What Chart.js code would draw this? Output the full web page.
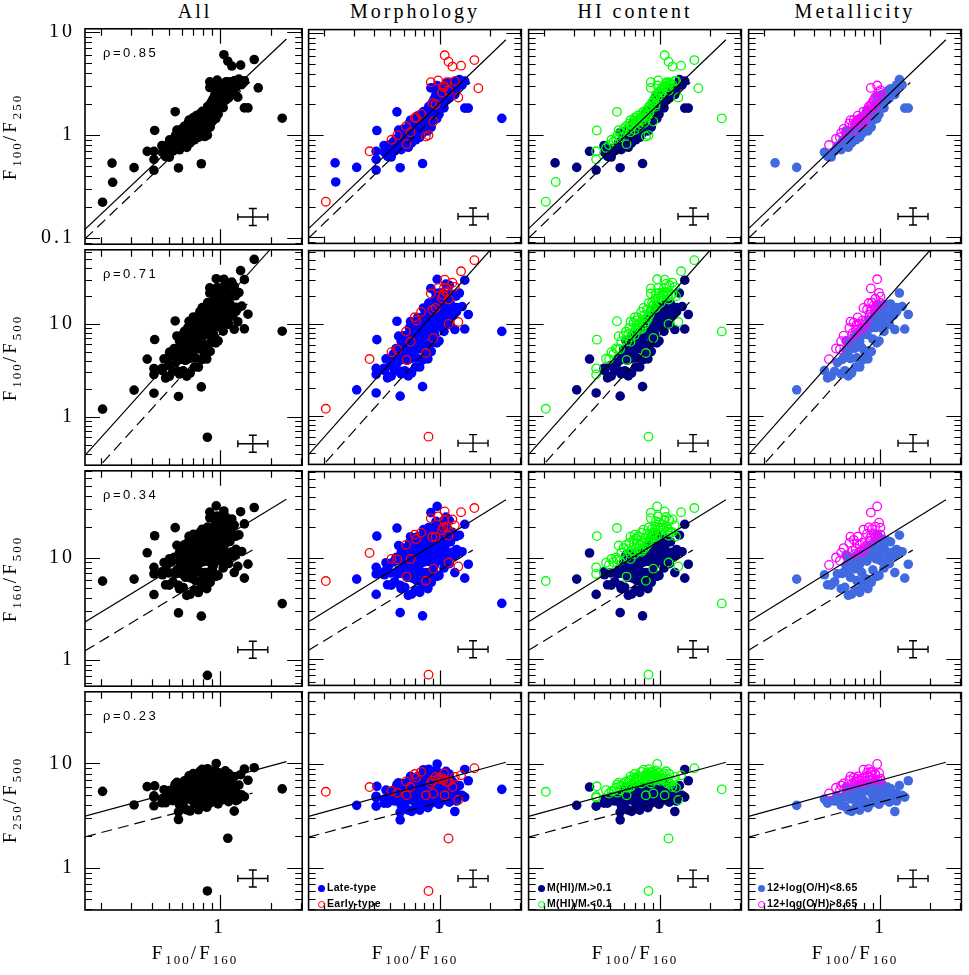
<!DOCTYPE html>
<html>
<head>
<meta charset="utf-8">
<script src="https://cdn.jsdelivr.net/npm/chart.js@4.4.1/dist/chart.umd.min.js"></script>
<style>
body { margin: 0; background: #fff; }
#page { position: relative; width: 969px; height: 975px; overflow: hidden; background: #fff; }
#page canvas { position: absolute; }
.t { position: absolute; white-space: nowrap; color: #000; }
.serif { font-family: 'Liberation Serif', serif; font-size: 19px; letter-spacing: 3px; }
.serif sub { font-size: 13px; vertical-align: -5px; line-height: 0; letter-spacing: 2px; }
.coltitle { width: 220px; text-align: center; line-height: 26px; font-size: 20px; }
.ytitle { width: 221px; height: 26px; line-height: 26px; text-align: center; transform: rotate(-90deg); }
.xtitle { width: 220px; text-align: center; line-height: 26px; }
.rho { font-family: 'Liberation Sans', sans-serif; font-size: 13px; line-height: 16px; letter-spacing: 2.5px; }
.legend { font-family: 'Liberation Sans', sans-serif; font-weight: bold; font-size: 10.5px; line-height: 12px; letter-spacing: 0.3px; }
.legend sub { font-size: 7px; vertical-align: -2px; line-height: 0; }
.mk { display: inline-block; width: 7px; height: 7px; border-radius: 50%; margin-right: 2px; vertical-align: -1px; box-sizing: border-box; }
</style>
</head>
<body>
<div id="page"></div>
<script>
// F100/F160 for each galaxy (x axis of every panel)
const ratio100_160 = [
  0.46, 0.48, 0.49, 0.50, 0.52, 0.53, 0.54, 0.55, 0.55, 0.47,
  0.56, 0.57, 0.58, 0.58, 0.59, 0.60, 0.60, 0.61, 0.62, 0.62,
  0.63, 0.63, 0.64, 0.64, 0.56, 0.65, 0.65, 0.66, 0.66, 0.67,
  0.67, 0.68, 0.68, 0.69, 0.69, 0.70, 0.70, 0.70, 0.71, 0.71,
  0.72, 0.72, 0.72, 0.73, 0.73, 0.74, 0.74, 0.75, 0.75, 0.75,
  0.76, 0.765, 0.77, 0.77, 0.78, 0.78, 0.79, 0.79, 0.80, 0.80,
  0.80, 0.715, 0.81, 0.817, 0.82, 0.82, 0.83, 0.83, 0.84, 0.84,
  0.85, 0.85, 0.86, 0.86, 0.87, 0.875, 0.88, 0.88, 0.89, 0.89,
  0.90, 0.90, 0.893, 0.906, 0.875, 0.91, 0.92, 0.92, 0.93, 0.935,
  0.94, 0.94, 0.95, 0.95, 0.955, 0.96, 0.968, 0.97, 0.98, 0.98,
  0.99, 1.00, 1.00, 1.02, 1.02, 1.03, 1.04, 1.05, 1.05, 1.06,
  1.07, 1.08, 1.09, 1.09, 1.10, 1.11, 1.118, 1.12, 1.13, 1.13,
  1.15, 1.18, 1.18, 1.20, 1.22, 1.22, 1.24, 1.25, 1.28, 1.30,
  1.33, 1.35, 1.40, 1.40, 1.47, 1.60, 1.69, 2.34, 0.204, 0.232,
  0.234, 0.313, 0.374, 0.41, 0.414, 0.41, 0.41, 0.572, 0.78, 0.505,
  0.547, 0.847, 0.457, 0.507, 0.625, 0.66, 0.572,
  0.62, 0.64, 0.66, 0.68, 0.70, 0.71, 0.73, 0.74, 0.76, 0.77,
  0.79, 0.80, 0.82, 0.83, 0.85, 0.86, 0.87, 0.88, 0.90, 0.91,
  0.92, 0.93, 0.95, 0.96, 0.97, 0.99, 1.00, 1.01, 1.03, 1.04,
  1.06, 1.08, 1.10, 1.12, 1.15, 1.17, 1.25, 0.60, 0.66, 0.84
];

// F100/F250
const ratio100_250 = [
  0.68, 0.62, 0.80, 0.74, 0.86, 0.70, 0.92, 0.78, 1.00, 0.75,
  0.85, 0.95, 0.72, 1.05, 0.88, 0.98, 1.15, 0.80, 1.02, 1.22,
  0.90, 1.10, 0.96, 0.76, 1.12, 1.08, 1.30, 0.92, 1.18, 1.02,
  0.84, 1.25, 1.12, 1.40, 0.98, 1.20, 1.05, 1.48, 1.32, 0.90,
  1.15, 1.38, 1.00, 1.26, 1.55, 1.10, 1.35, 1.20, 0.95, 1.45,
  1.30, 1.61, 1.18, 1.40, 1.05, 1.50, 1.28, 1.70, 1.15, 1.42,
  1.60, 1.48, 1.35, 0.97, 1.55, 1.22, 1.75, 1.40, 1.10, 1.62,
  1.48, 1.90, 1.30, 1.68, 1.55, 3.30, 1.85, 1.20, 1.62, 2.05,
  1.40, 1.75, 2.07, 1.36, 2.90, 2.20, 1.55, 1.95, 2.35, 2.00,
  1.70, 2.50, 1.45, 2.10, 3.06, 2.30, 3.43, 1.85, 2.65, 1.60,
  2.20, 2.45, 1.95, 2.61, 2.10, 2.80, 2.35, 3.03, 1.85, 6.05,
  2.55, 3.20, 3.30, 2.20, 2.70, 2.95, 5.23, 2.72, 3.30, 2.30,
  2.85, 4.69, 3.10, 2.60, 3.38, 2.50, 3.40, 2.90, 2.34, 3.50,
  4.79, 3.10, 3.38, 1.84, 1.84, 5.43, 2.88, 1.46, 0.223, 0.535,
  0.348, 0.483, 0.695, 0.695, 1.11, 0.455, 0.58, 0.48, 0.527, 0.61,
  1.69, 1.00, 0.79, 0.90, 0.816, 1.07, 1.06,
  1.10, 1.18, 1.00, 1.30, 1.12, 1.25, 1.40, 1.20, 1.45, 1.28,
  1.55, 1.32, 1.68, 1.48, 1.75, 1.58, 1.95, 1.65, 2.10, 1.80,
  2.25, 1.90, 2.40, 2.00, 2.60, 2.30, 2.75, 2.20, 2.50, 2.95,
  2.40, 2.65, 3.05, 2.50, 3.20, 2.70, 3.10, 0.90, 1.40, 1.25
];

// F250/F500 (null = no 500 micron flux)
const ratio250_500 = [
  4.6, 4.2, 5.2, 4.8, 5.5, 4.4, 5.9, 4.9, 5.3, 5.6,
  5.0, 5.6, 4.0, 6.2, 4.7, 5.4, 6.5, 3.9, 5.1, 6.8,
  4.5, 5.9, 5.2, 3.6, 6.6, 5.6, 7.0, 4.6, 6.1, 5.0,
  3.5, 6.4, 5.7, 7.4, 4.4, 6.0, 5.2, 8.0, 6.6, 3.8,
  5.5, 7.2, 4.3, 6.2, 7.6, 4.9, 6.8, 5.4, 3.6, 7.0,
  5.9, 8.4, 4.7, 6.5, 3.9, 7.3, 5.6, 8.8, 4.4, 6.3,
  7.8, 7.4, 5.8, 5.0, 6.9, 4.8, 8.2, 5.5, 3.8, 7.1,
  6.2, 8.9, 4.6, 7.5, 6.0, 6.5, 7.8, 4.2, 5.8, 8.3,
  4.9, 6.6, 6.9, 5.2, 8.4, 7.2, 5.0, 6.8, 8.0, 7.5,
  5.4, 8.6, 4.3, 6.4, 10.0, 7.0, 7.2, 5.2, 8.2, 4.1,
  6.0, 6.9, 4.8, 7.3, 5.5, 7.8, 5.9, 8.1, 4.5, 5.0,
  6.4, 8.5, 6.7, 4.6, 6.0, 7.1, 1.92, 6.8, 8.0, 4.3,
  5.8, 6.0, 6.8, 4.8, 7.5, 3.49, 5.9, 5.2, 4.5, 6.2,
  7.8, 5.0, 8.85, 4.8, 6.9, 9.1, null, 5.7, 5.4, null,
  null, 4.0, 6.0, 4.75, 6.1, 3.93, 4.9, 3.44, 3.97, 4.46,
  6.35, 0.60, 4.2, 5.5, 5.0, 6.0, 2.9,
  6.0, 6.6, 5.4, 5.8, 6.8, 5.0, 5.6, 7.2, 5.2, 6.9,
  6.0, 7.5, 5.6, 8.0, 6.4, 5.0, 7.0, 5.5, 7.6, 5.8,
  6.2, 7.9, 6.7, 5.6, 7.4, 5.3, 7.2, 4.9, 6.3, 7.0,
  5.3, 5.6, 6.5, 4.6, 6.4, 4.9, 4.4, 4.8, 7.6, 4.1
];

// L = late-type, E = early-type
const morphology = (
  'LLLLLLLLEL' + 'LLLLLLLLLE' + 'LLLLLLLLLL' + 'LLLLLLLELL' + 'LLLLLLLLLL' +
  'LELLLLLLLL' + 'LELELLLLLL' + 'LLLLLELLLL' + 'LLEELLLLLE' + 'LLLLLLELLL' +
  'LLLELLLELE' + 'LLELLLEELL' + 'LELLELLLEL' + 'ELLLLEELEL' + 'LLELLLLLLL' +
  'LELEEEL' +
  'LLLLLLLLLL' + 'LLLLLLLLLL' + 'LLLLLLLLLE' + 'LLLLLLLLLL').split('');

// R = M(HI)/M* > 0.1, P = M(HI)/M* < 0.1
const hiContent = (
  'RRPRPRPRPP' + 'RPRPRRPRRP' + 'RPRRPRPRPR' + 'RPRPRRRPPR' + 'RPRRPRPRRP' +
  'RPRPRPRPRR' + 'PPRPPRPRRP' + 'RPRPRPPRRP' + 'RRPPPPRRPP' + 'RPRRPPPRPR' +
  'RPRPRPRPRP' + 'RPPRRPPPPR' + 'RPPRPRPRPR' + 'PRRRRPPPPR' + 'PRRPPRPRRR' +
  'PPRPPPR' +
  'RPRRPRRPRP' + 'RPRPRRPRPR' + 'RPRRPRPRRP' + 'RRPRPRRRPR').split('');

// L = 12+log(O/H) < 8.65, H = > 8.65, - = no measurement
const metallicity = (
  'LLH--LHL--' + '-HLHL-HLL-' + '-HLL-LHL--' + 'LHLH-LL-HL' + '-HLLH--LLH' +
  '--LHLH-HLL' + '--L-H-HLL-' + 'LH-HL-HL-H' + 'LL--HH-LH-' + 'L-L-HH-LHL' +
  '-HL-L-L-L-' + '---LL----L' + 'L--L-L-L-L' + '-L-LL----L' + '-L-------L' +
  '-------' +
  'L-L-HLL-LH' + '-HL-L-HL-L' + '-HLL-LH-L-' + 'L--L-LLLHL').split('');

const columnTitles = ['All', 'Morphology', 'HI content', 'Metallicity'];
const rowTitles = [['100', '250'], ['100', '500'], ['160', '500'], ['250', '500']];
const rhoValues = ['0.85', '0.71', '0.34', '0.23'];

const xRange = [0.1607, 3.07];
const yRanges = [[0.0871, 10.8], [0.314, 62.7], [0.555, 70.5], [0.394, 48.6]];

// model lines, [start, end] in data units
const solidLines = [
  [[0.1607, 0.1216], [2.477, 8.59]],
  [[0.1607, 0.383], [2.0, 64.0]],
  [[0.1607, 2.35], [2.477, 37.2]],
  [[0.1607, 3.13], [2.477, 10.4]]
];
const dashedLines = [
  [[0.1607, 0.098], [1.51, 3.28]],
  [[0.204, 0.318], [1.53, 18.1]],
  [[0.1607, 1.23], [1.563, 11.9]],
  [[0.1607, 1.98], [1.563, 5.2]]
];

// typical error bar, drawn at this position
const errorBarX = 1.57;
const errorBarY = [0.16, 0.51, 1.26, 0.79];

const legendItems = [
  null,
  [['#0000ff', false, 'Late-type'], ['#ff0000', true, 'Early-type']],
  [['#000080', false, 'M(HI)/M<sub>*</sub>&gt;0.1'], ['#00ff00', true, 'M(HI)/M<sub>*</sub>&lt;0.1']],
  [['#4169e1', false, '12+log(O/H)&lt;8.65'], ['#ff00ff', true, '12+log(O/H)&gt;8.65']]
];

const fillColours = ['#000000', '#0000ff', '#000080', '#4169e1'];
const openColours = [null, '#ff0000', '#00ff00', '#ff00ff'];

const colLeft = [85, 305, 525, 745];
const rowTop = [26, 247, 468, 689];
const PW = 220, PH = 221;

const page = document.getElementById('page');

function rowValue(row, i) {
  const a = ratio100_250[i], b = ratio250_500[i];
  if (row === 0) return a;
  if (b === null) return null;
  const f100_500 = a * b;
  if (row === 1) return f100_500;
  if (row === 2) return f100_500 / ratio100_160[i];
  return b;
}

function classOf(col, i) {
  if (col === 0) return 'fill';
  if (col === 1) return morphology[i] === 'L' ? 'fill' : 'open';
  if (col === 2) return hiContent[i] === 'R' ? 'fill' : 'open';
  if (metallicity[i] === '-') return null;
  return metallicity[i] === 'L' ? 'fill' : 'open';
}

function points(row, col, cls) {
  const pts = [];
  for (let i = 0; i < ratio100_160.length; i++) {
    if (classOf(col, i) !== cls) continue;
    const y = rowValue(row, i);
    if (y === null) continue;
    pts.push({ x: ratio100_160[i], y: y });
  }
  return pts;
}

function logTicks(min, max) {
  const out = [];
  for (let e = Math.floor(Math.log10(min)); e <= Math.ceil(Math.log10(max)); e++) {
    for (let m = 1; m < 10; m++) {
      const v = m * Math.pow(10, e);
      if (v > min * 1.001 && v < max / 1.001) out.push({ v: v, major: m === 1 });
    }
  }
  return out;
}

function decadeLabel(v) {
  const l = Math.log10(v);
  if (Math.abs(l - Math.round(l)) > 1e-6) return '';
  return l < 0 ? v.toFixed(-Math.round(l)) : String(Math.round(v));
}

function noPadding(s) {
  s.paddingTop = 0; s.paddingBottom = 0; s.paddingLeft = 0; s.paddingRight = 0;
}

const framePlugin = {
  id: 'frame',
  beforeDraw(chart) {
    chart.ctx.letterSpacing = '3px';
  },
  afterDatasetsDraw(chart, args, opts) {
    const { ctx, chartArea: a } = chart;
    const xs = chart.scales.x, ys = chart.scales.y;
    ctx.save();
    ctx.letterSpacing = '0px';
    ctx.strokeStyle = '#000';
    ctx.lineWidth = 1.2;
    ctx.beginPath();
    for (const t of logTicks(xs.min, xs.max)) {
      const px = Math.round(xs.getPixelForValue(t.v)) + 0.5;
      const len = t.major ? 15 : 7;
      ctx.moveTo(px, a.bottom); ctx.lineTo(px, a.bottom - len);
      ctx.moveTo(px, a.top); ctx.lineTo(px, a.top + len);
    }
    for (const t of logTicks(ys.min, ys.max)) {
      const py = Math.round(ys.getPixelForValue(t.v)) + 0.5;
      const len = t.major ? 15 : 7;
      ctx.moveTo(a.left, py); ctx.lineTo(a.left + len, py);
      ctx.moveTo(a.right, py); ctx.lineTo(a.right - len, py);
    }
    ctx.stroke();

    // error bar cross
    const cx = xs.getPixelForValue(errorBarX);
    const cy = ys.getPixelForValue(errorBarY[opts.row]);
    ctx.lineWidth = 1.4;
    ctx.beginPath();
    ctx.moveTo(cx - 15, cy); ctx.lineTo(cx + 15, cy);
    ctx.moveTo(cx - 15, cy - 3.5); ctx.lineTo(cx - 15, cy + 3.5);
    ctx.moveTo(cx + 15, cy - 3.5); ctx.lineTo(cx + 15, cy + 3.5);
    ctx.moveTo(cx, cy - 8.5); ctx.lineTo(cx, cy + 8.5);
    ctx.moveTo(cx - 4, cy - 8.5); ctx.lineTo(cx + 4, cy - 8.5);
    ctx.moveTo(cx - 4, cy + 8.5); ctx.lineTo(cx + 4, cy + 8.5);
    ctx.stroke();

    ctx.lineWidth = 1.6;
    ctx.strokeRect(a.left, a.top, a.right - a.left, a.bottom - a.top);
    ctx.restore();
  }
};

function lineSet(seg, dash) {
  return {
    data: seg.map(p => ({ x: p[0], y: p[1] })),
    showLine: true,
    borderColor: '#000',
    borderWidth: 1.2,
    borderDash: dash,
    pointRadius: 0,
    fill: false
  };
}

function makePanel(row, col) {
  const isLeft = col === 0, isBottom = row === 3;
  const axisW = colLeft[0], axisH = 40;
  const cv = document.createElement('canvas');
  cv.width = isLeft ? axisW + PW + 2 : PW + 4;
  cv.height = PH + 2 + (isBottom ? axisH : 2);
  cv.style.left = (isLeft ? 0 : colLeft[col] - 2) + 'px';
  cv.style.top = (rowTop[row] - 2) + 'px';
  page.appendChild(cv);

  const datasets = [lineSet(solidLines[row], []), lineSet(dashedLines[row], [11, 6])];
  if (openColours[col]) {
    datasets.push({
      data: points(row, col, 'open'),
      pointRadius: 4.3,
      pointBorderWidth: 1.3,
      pointBackgroundColor: 'rgba(0,0,0,0)',
      pointBorderColor: openColours[col]
    });
  }
  datasets.push({
    data: points(row, col, 'fill'),
    pointRadius: 4.8,
    pointBorderWidth: 0,
    pointBackgroundColor: fillColours[col],
    pointBorderColor: fillColours[col]
  });

  new Chart(cv, {
    type: 'scatter',
    data: { datasets: datasets },
    options: {
      responsive: false,
      animation: false,
      devicePixelRatio: 1,
      layout: { padding: { left: isLeft ? 0 : 2, right: 2, top: 2, bottom: isBottom ? 0 : 2 } },
      plugins: { legend: { display: false }, tooltip: { enabled: false }, frame: { row: row } },
      scales: {
        x: {
          type: 'logarithmic', position: 'bottom', min: xRange[0], max: xRange[1],
          display: isBottom,
          grid: { display: false, drawTicks: false }, border: { display: false },
          ticks: { autoSkip: false, maxRotation: 0, padding: 6, color: '#000',
                   font: { family: 'Liberation Serif', size: 20 }, callback: decadeLabel },
          afterFit: s => { s.height = isBottom ? axisH : 0; noPadding(s); }
        },
        y: {
          type: 'logarithmic', position: 'left', min: yRanges[row][0], max: yRanges[row][1],
          display: isLeft,
          grid: { display: false, drawTicks: false }, border: { display: false },
          ticks: { autoSkip: false, padding: 10, color: '#000',
                   font: { family: 'Liberation Serif', size: 20 }, callback: decadeLabel },
          afterFit: s => { s.width = isLeft ? axisW : 0; noPadding(s); }
        }
      }
    },
    plugins: [framePlugin]
  });
}

function addText(cls, html, left, top) {
  const d = document.createElement('div');
  d.className = 't ' + cls;
  d.innerHTML = html;
  d.style.left = left + 'px';
  d.style.top = top + 'px';
  page.appendChild(d);
  return d;
}

for (let r = 0; r < 4; r++) {
  for (let c = 0; c < 4; c++) makePanel(r, c);
}

columnTitles.forEach((t, c) => addText('serif coltitle', t, colLeft[c], -2));

rowTitles.forEach((p, r) => {
  addText('serif ytitle', 'F<sub>' + p[0] + '</sub>/F<sub>' + p[1] + '</sub>',
          -101, rowTop[r] + PH / 2 - 13);
  addText('rho', '\u03c1=' + rhoValues[r], colLeft[0] + 18, rowTop[r] + 19);
});

colLeft.forEach(l => addText('serif xtitle', 'F<sub>100</sub>/F<sub>160</sub>', l, 940));

legendItems.forEach((items, c) => {
  if (!items) return;
  items.forEach((it, k) => {
    const mk = it[1]
      ? '<span class="mk" style="border:1.3px solid ' + it[0] + '"></span>'
      : '<span class="mk" style="background:' + it[0] + '"></span>';
    addText('legend', mk + it[2], colLeft[c] + 13, rowTop[3] + 192 + k * 16);
  });
});
</script>
</body>
</html>
